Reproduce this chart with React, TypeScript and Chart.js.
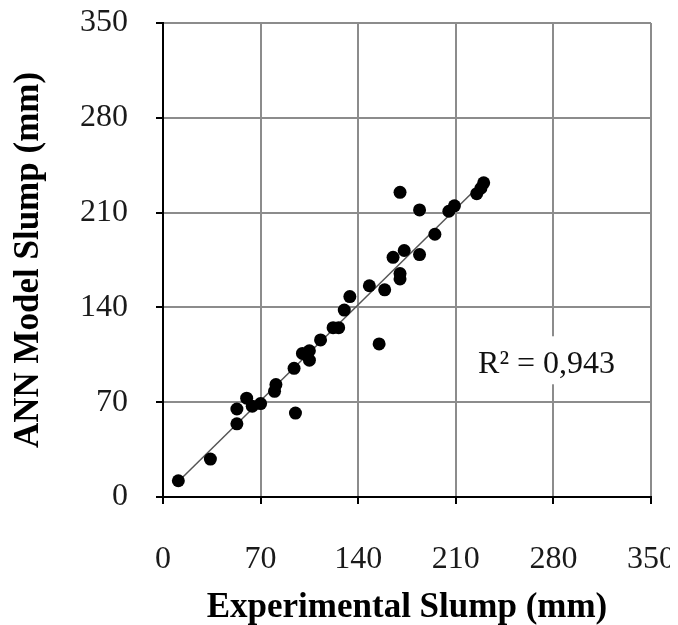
import React, { useEffect, useRef } from "react";
import { Chart, registerables } from "chart.js";

Chart.register(...registerables);

// Experimental slump (mm) vs ANN model slump (mm)
const experimental = [
  11, 34, 53, 53, 60, 64, 70, 81, 80, 94, 95, 100, 105, 105, 113, 122, 126, 130, 134,
  148, 155, 159, 165, 170, 170, 170, 173, 184, 184, 195, 205, 209, 225, 228, 230,
];
const annModel = [
  12, 28, 54, 65, 73, 67, 69, 83, 78, 95, 62, 106, 108, 101, 116, 125, 125, 138, 148,
  156, 113, 153, 177, 225, 165, 161, 182, 212, 179, 194, 211, 215, 224, 228, 232,
];

// Trend line end points
const trendX = [11, 229];
const trendY = [11.5, 232];

const axisTicks = [0, 70, 140, 210, 280, 350];
const xTitle = "Experimental Slump (mm)";
const yTitle = "ANN Model Slump (mm)";
const r2Text = "R² = 0,943";
const r2At = { x: 226, y: 98 };

const SERIF = "'Liberation Serif', 'Times New Roman', serif";

export default function App() {
  const ref = useRef<HTMLCanvasElement | null>(null);

  useEffect(() => {
    if (!ref.current) return;
    const points = experimental.map((x, i) => ({ x, y: annModel[i] }));
    const trend = trendX.map((x, i) => ({ x, y: trendY[i] }));

    const r2Plugin = {
      id: "r2label",
      afterDraw(chart: any) {
        const { ctx, scales } = chart;
        const px = scales.x.getPixelForValue(r2At.x);
        const py = scales.y.getPixelForValue(r2At.y);
        ctx.save();
        ctx.font = `32px ${SERIF}`;
        const w = ctx.measureText(r2Text).width;
        ctx.fillStyle = "#ffffff";
        ctx.fillRect(px - 5, py - 28, w + 10, 48);
        ctx.fillStyle = "#111";
        ctx.textAlign = "left";
        ctx.textBaseline = "middle";
        ctx.fillText(r2Text, px, py);
        ctx.restore();
      },
    };

    const tickFont = { family: SERIF, size: 32 };
    const titleFont = { family: SERIF, size: 35, weight: "bold" as const, lineHeight: 1 };

    const chart = new Chart(ref.current, {
      type: "scatter",
      data: {
        datasets: [
          {
            data: points,
            backgroundColor: "#000",
            borderColor: "#000",
            borderWidth: 0,
            pointRadius: 6.5,
            pointHoverRadius: 6.5,
          },
          {
            data: trend,
            showLine: true,
            borderColor: "#555",
            borderWidth: 1.5,
            pointRadius: 0,
            fill: false,
          } as any,
        ],
      },
      options: {
        animation: false,
        responsive: false,
        maintainAspectRatio: false,
        layout: { padding: { top: 15, right: 19, left: 0, bottom: 0 } },
        plugins: { legend: { display: false }, tooltip: { enabled: false } },
        scales: {
          x: {
            type: "linear",
            min: 0,
            max: 350,
            afterBuildTicks: (scale: any) => {
              scale.ticks = axisTicks.map((v) => ({ value: v }));
            },
            afterFit: (scale: any) => {
              scale.height = 128;
              scale.paddingLeft = 0;
              scale.paddingRight = 0;
              scale.paddingTop = 0;
              scale.paddingBottom = 0;
            },
            grid: {
              color: "#8c8c8c",
              lineWidth: 2,
              tickColor: "#000",
              tickLength: 7,
              tickWidth: 2,
            },
            border: { color: "#000", width: 2 },
            ticks: { font: tickFont, color: "#1a1a1a", padding: 36, maxRotation: 0 },
            title: {
              display: true,
              text: xTitle,
              font: titleFont,
              color: "#000",
              padding: { top: 0, bottom: 0 },
            },
          },
          y: {
            type: "linear",
            min: 0,
            max: 350,
            afterBuildTicks: (scale: any) => {
              scale.ticks = axisTicks.map((v) => ({ value: v }));
            },
            afterFit: (scale: any) => {
              scale.width = 155;
              scale.paddingLeft = 0;
              scale.paddingRight = 0;
              scale.paddingTop = 0;
              scale.paddingBottom = 0;
            },
            grid: {
              color: "#8c8c8c",
              lineWidth: 2,
              tickColor: "#000",
              tickLength: 7,
              tickWidth: 2,
            },
            border: { color: "#000", width: 2 },
            ticks: { font: tickFont, color: "#1a1a1a", padding: 28 },
            title: {
              display: true,
              text: yTitle,
              font: titleFont,
              color: "#000",
              padding: { top: 3.5, bottom: 0 },
            },
          },
        },
      },
      plugins: [r2Plugin],
    });
    return () => chart.destroy();
  }, []);

  return (
    <div style={{ width: 662, height: 617 }}>
      <canvas ref={ref} width={662} height={617} style={{ display: "block", width: 662, height: 617 }} />
    </div>
  );
}
